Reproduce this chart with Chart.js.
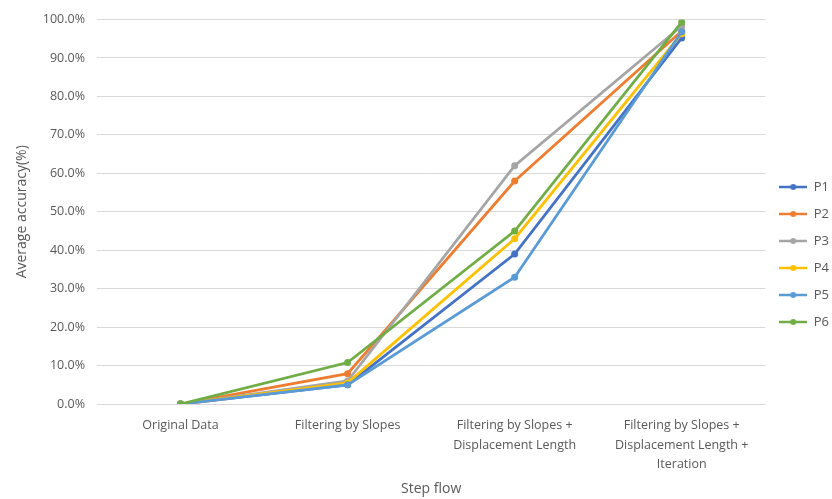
<!DOCTYPE html>
<html>
<head>
<meta charset="utf-8">
<script src="https://cdn.jsdelivr.net/npm/chart.js@4.4.1/dist/chart.umd.min.js"></script>
<style>
  html, body { margin: 0; padding: 0; background: #fff; }
  #wrap { width: 832px; height: 499px; position: relative; }
</style>
</head>
<body>
<div id="wrap"><canvas id="c" width="832" height="499"></canvas></div>
<script>
// Processing steps along the x axis
const steps = [
  'Original Data',
  'Filtering by Slopes',
  ['Filtering by Slopes +', 'Displacement Length'],
  ['Filtering by Slopes +', 'Displacement Length +', 'Iteration']
];

// Average accuracy (%) per participant at each step
const p1 = [0, 5.0, 39.0, 95.2];
const p2 = [0, 7.9, 58.0, 97.0];
const p3 = [0, 6.0, 62.0, 98.3];
const p4 = [0, 5.5, 43.0, 96.3];
const p5 = [0, 5.0, 33.0, 96.8];
const p6 = [0, 10.8, 45.0, 99.3];

const seriesNames = ['P1', 'P2', 'P3', 'P4', 'P5', 'P6'];
const seriesColors = ['#4472C4', '#ED7D31', '#A5A5A5', '#FFC000', '#5B9BD5', '#70AD47'];
const seriesValues = [p1, p2, p3, p4, p5, p6];

const yTicks = { min: 0, max: 100, step: 10 };

const FONT = "'Open Sans', 'Liberation Sans', sans-serif";
const TEXT = '#595959';

// Legend marker: short line with a dot in the middle
function legendMarker(color) {
  const cv = document.createElement('canvas');
  cv.width = 28; cv.height = 8;
  const g = cv.getContext('2d');
  g.strokeStyle = color; g.lineWidth = 2.5;
  g.beginPath(); g.moveTo(0, 4); g.lineTo(28, 4); g.stroke();
  g.fillStyle = color;
  g.beginPath(); g.arc(14, 4, 3, 0, Math.PI * 2); g.fill();
  return cv;
}

const datasets = seriesNames.map((name, i) => ({
  label: name,
  data: seriesValues[i],
  borderColor: seriesColors[i],
  backgroundColor: seriesColors[i],
  borderWidth: 2.8,
  pointRadius: 3.5,
  pointBorderWidth: 0,
  pointHoverRadius: 3.5,
  tension: 0,
  order: seriesNames.length - 1 - i,
  markerImg: legendMarker(seriesColors[i])
}));

new Chart(document.getElementById('c'), {
  type: 'line',
  data: { labels: steps, datasets },
  options: {
    responsive: false,
    animation: false,
    layout: { padding: { top: 12, right: -7, bottom: 2, left: 14 } },
    plugins: {
      tooltip: { enabled: false },
      legend: {
        position: 'right',
        align: 'center',
        labels: {
          usePointStyle: true,
          pointStyleWidth: 28,
          boxWidth: 28,
          boxHeight: 8,
          font: { family: FONT, size: 13 },
          color: TEXT,
          padding: 14,
          sort: (a, b) => a.datasetIndex - b.datasetIndex,
          generateLabels: (chart) => chart.data.datasets.map((ds, i) => ({
            text: ds.label,
            pointStyle: ds.markerImg,
            fillStyle: ds.borderColor,
            strokeStyle: ds.borderColor,
            fontColor: TEXT,
            lineWidth: 0,
            hidden: false,
            datasetIndex: i
          }))
        }
      }
    },
    scales: {
      x: {
        offset: true,
        grid: { display: false },
        border: { display: false },
        ticks: {
          color: TEXT,
          font: { family: FONT, size: 12.5, lineHeight: 1.55 },
          maxRotation: 0,
          autoSkip: false,
          padding: 4
        },
        title: {
          display: true,
          text: 'Step flow',
          color: TEXT,
          font: { family: FONT, size: 14 },
          padding: { top: 2, bottom: 0 }
        }
      },
      y: {
        min: yTicks.min,
        max: yTicks.max,
        grid: { color: '#D9D9D9', lineWidth: 1, drawTicks: false },
        border: { display: false },
        ticks: {
          stepSize: yTicks.step,
          color: TEXT,
          font: { family: FONT, size: 12.5 },
          padding: 12,
          callback: (v) => v.toFixed(1) + '%'
        },
        title: {
          display: true,
          text: 'Average accuracy(%)',
          color: TEXT,
          font: { family: FONT, size: 14 },
          padding: { top: 0, bottom: 0 }
        }
      }
    }
  }
});
</script>
</body>
</html>
